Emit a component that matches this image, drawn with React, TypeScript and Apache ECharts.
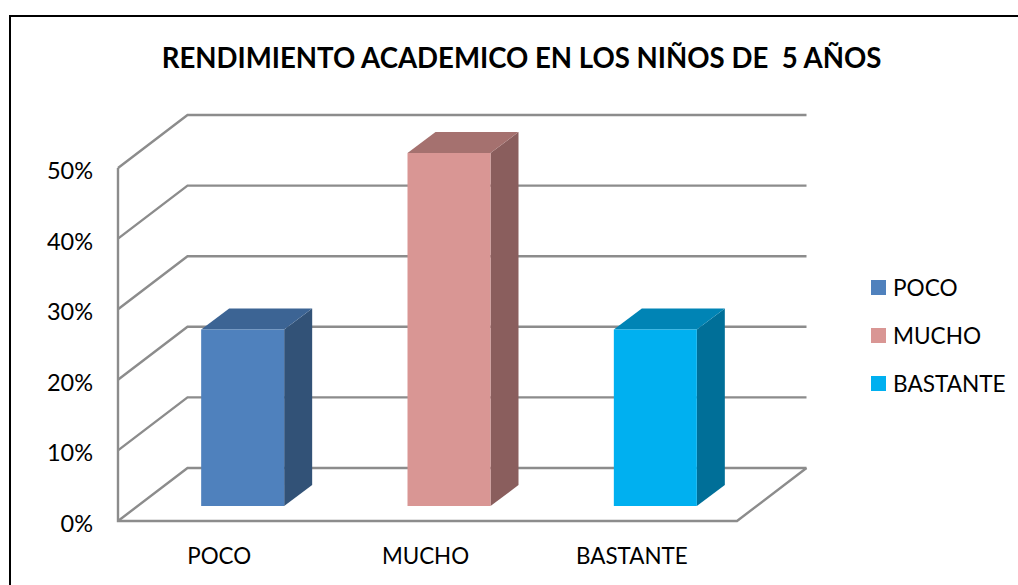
import React, { useEffect, useRef } from "react";
import * as echarts from "echarts";

const titleText = "RENDIMIENTO ACADEMICO EN LOS NIÑOS DE  5 AÑOS";
const categories = ["POCO", "MUCHO", "BASTANTE"];
const values = [0.25, 0.5, 0.25];
const gridTicks = [0, 0.1, 0.2, 0.3, 0.4, 0.5];
const frontColors = ["#4F81BD", "#D99694", "#00B0F0"];
const topColors = ["#3C6494", "#A5716F", "#0084B5"];
const sideColors = ["#325277", "#8A5E5D", "#006F98"];

const FONT = "Lato, Carlito, sans-serif";
const GRID_COLOR = "#8C8C8C";
const DEPTH_X = 69.5;
const DEPTH_Y = 53;
const BAR_W = 83;
const BAR_SHIFT_X = 21.5;
const BAR_SHIFT_Y = 15;
const BAR_DX = 28;
const BAR_DY = 21;

function renderGrid(params: any, api: any) {
  const cs = params.coordSys;
  const v = api.value(0);
  const y = api.coord([0, v])[1];
  const x0 = cs.x;
  const x1 = cs.x + cs.width;
  const lineStyle = { stroke: GRID_COLOR, lineWidth: 2.4, fill: "none" };
  const children: any[] = [
    {
      type: "polyline",
      shape: { points: [[x0, y], [x0 + DEPTH_X, y - DEPTH_Y], [x1 + DEPTH_X, y - DEPTH_Y]] },
      style: lineStyle,
    },
  ];
  if (v === 0) {
    children.push(
      {
        type: "polyline",
        shape: { points: [[x0, cs.y], [x0, y], [x1, y], [x1 + DEPTH_X, y - DEPTH_Y]] },
        style: lineStyle,
      }
    );
  }
  return { type: "group", children };
}

function renderBar(params: any, api: any) {
  const i = api.value(0);
  const p = api.coord([i, api.value(1)]);
  const base = api.coord([i, 0]);
  const x0 = p[0] + BAR_SHIFT_X - BAR_W / 2;
  const x1 = x0 + BAR_W;
  const yT = p[1] - BAR_SHIFT_Y;
  const yB = base[1] - BAR_SHIFT_Y;
  return {
    type: "group",
    children: [
      {
        type: "polygon",
        shape: { points: [[x1, yT], [x1 + BAR_DX, yT - BAR_DY], [x1 + BAR_DX, yB - BAR_DY], [x1, yB]] },
        style: { fill: sideColors[i] },
      },
      {
        type: "polygon",
        shape: { points: [[x0, yT], [x0 + BAR_DX, yT - BAR_DY], [x1 + BAR_DX, yT - BAR_DY], [x1, yT]] },
        style: { fill: topColors[i] },
      },
      {
        type: "rect",
        shape: { x: x0, y: yT, width: BAR_W, height: yB - yT },
        style: { fill: frontColors[i] },
      },
    ],
  };
}

export default function App() {
  const ref = useRef<HTMLDivElement>(null);
  useEffect(() => {
    const chart = echarts.init(ref.current!, null, { renderer: "svg" });
    chart.setOption({
      animation: false,
      backgroundColor: "#FFFFFF",
      textStyle: { fontFamily: FONT },
      title: {
        text: titleText,
        left: 516.5,
        top: 38,
        textAlign: "center",
        textStyle: { fontFamily: FONT, fontSize: 27.6, fontWeight: "bold", color: "#000000" },
      },
      grid: { left: 118, right: 281, top: 168, bottom: 64 },
      legend: {
        data: categories,
        orient: "vertical",
        left: 866,
        top: 271,
        itemWidth: 15,
        itemHeight: 15,
        itemGap: 25,
        icon: "rect",
        textStyle: { fontFamily: FONT, fontSize: 22.6, color: "#000000", padding: [0, 0, 0, 2] },
      },
      xAxis: {
        type: "category",
        data: categories,
        axisLine: { show: false },
        axisTick: { show: false },
        axisLabel: { fontFamily: FONT, fontSize: 22.4, color: "#000000", margin: 23, padding: [0, 4, 0, 0] },
      },
      yAxis: {
        type: "value",
        min: 0,
        max: 0.5,
        interval: 0.1,
        axisLine: { show: false },
        axisTick: { show: false },
        splitLine: { show: false },
        axisLabel: {
          fontFamily: FONT,
          fontSize: 23.5,
          color: "#000000",
          margin: 25,
          verticalAlign: "top",
          lineHeight: 4,
          formatter: (v: number) => `${Math.round(v * 100)}%`,
        },
      },
      series: [
        {
          type: "custom",
          name: "walls",
          silent: true,
          z: 1,
          renderItem: renderGrid,
          data: gridTicks.map((t) => [t]),
          encode: { y: 0 },
        },
        ...categories.map((name, i) => ({
          type: "custom",
          name,
          z: 2,
          itemStyle: { color: frontColors[i] },
          renderItem: renderBar,
          data: [[i, values[i]]],
          encode: { x: 0, y: 1 },
        })),
      ],
      graphic: [
        {
          type: "polyline",
          silent: true,
          shape: { points: [[10, 585], [10, 16], [1018, 16]] },
          style: { stroke: "#000000", lineWidth: 2, fill: "none" },
        },
      ],
    });
    return () => chart.dispose();
  }, []);
  return (
    <div
      ref={ref}
      style={{ position: "fixed", left: 0, top: 0, width: 1018, height: 585 }}
    />
  );
}
